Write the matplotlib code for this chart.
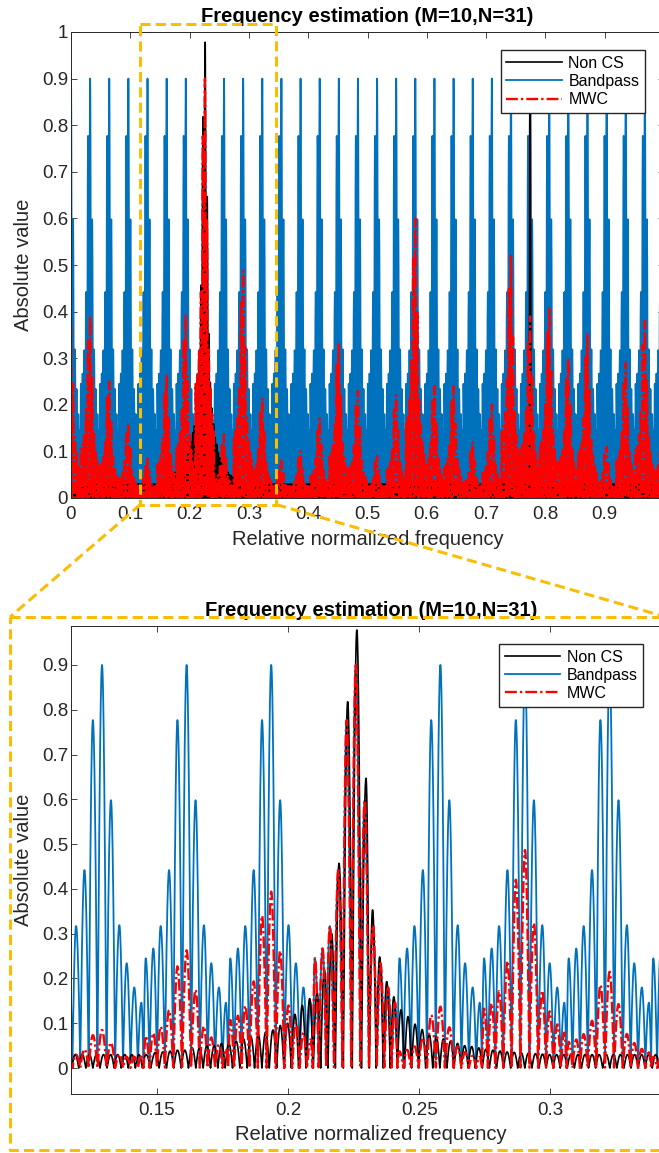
import numpy as np
import matplotlib.pyplot as plt
from matplotlib.lines import Line2D
from matplotlib.ticker import FormatStrFormatter

plt.rcParams['font.family'] = ['Liberation Sans', 'DejaVu Sans']

# ---- values ----
N = 31

# Bandpass: lobes around every k/N (offset from k/N, height)
bp_offset = [-0.0156, -0.0127, -0.0099, -0.0067, -0.0035, 0.0,
             0.0034, 0.0066, 0.0094, 0.0123, 0.0150]
bp_height = [0.245, 0.267, 0.317, 0.442, 0.777, 0.90,
             0.598, 0.319, 0.234, 0.180, 0.146]

# MWC: peak of the cluster at each k/N, k = 0..31 (same lobe pattern)
mwc_peak = [0.37, 0.39, 0.25, 0.16, 0.085, 0.263, 0.394, 0.90,
            0.137, 0.487, 0.215, 0.08, 0.10, 0.17, 0.33, 0.23,
            0.09, 0.22, 0.60, 0.24, 0.24, 0.12, 0.20, 0.52,
            0.39, 0.41, 0.30, 0.35, 0.11, 0.29, 0.38, 0.20]
mwc_floor = 0.025

# Non CS: main spike at 7/31 with its lobes (left / right going outwards)
ncs_center = 0.2262
ncs_peak = 0.978
ncs_left = [0.818, 0.457, 0.30, 0.22, 0.17, 0.155, 0.14, 0.12, 0.10,
            0.095, 0.085, 0.08, 0.075, 0.07, 0.065, 0.06, 0.055, 0.055,
            0.05, 0.05, 0.045, 0.045, 0.04, 0.04, 0.038, 0.036, 0.035]
ncs_right = [0.647, 0.353, 0.248, 0.193, 0.159, 0.13, 0.115, 0.098,
             0.086, 0.075, 0.07, 0.065, 0.06, 0.055, 0.05, 0.048, 0.045,
             0.042, 0.04, 0.038, 0.036, 0.035, 0.034, 0.033, 0.032,
             0.031, 0.03]
# second, narrow spike at 24/31
ncs_center2 = 0.7742
ncs_peak2 = 0.958
ncs_side2 = [0.06, 0.05, 0.04]
ncs_floor = 0.03

zoom_x = (0.1172, 0.346)


def lobe_curve(x, centers, heights, base=0.0):
    order = np.argsort(centers)
    c = np.asarray(centers, float)[order]
    h = np.asarray(heights, float)[order]
    mid = (c[1:] + c[:-1]) / 2
    edges = np.concatenate([[2 * c[0] - mid[0]], mid, [2 * c[-1] - mid[-1]]])
    i = np.clip(np.searchsorted(edges, x) - 1, 0, len(c) - 1)
    lo, hi, cc = edges[i], edges[i + 1], c[i]
    u = np.where(x < cc, (x - lo) / (cc - lo), (hi - x) / (hi - cc))
    u = np.clip(u, 0, 1)
    return base + (h[i] - base) * np.sin(np.pi / 2 * u)


x = np.linspace(0, 1, 40001)

# bandpass / MWC share the lobe positions
pos, bp_h, mwc_h = [], [], []
for k in range(N + 1):
    for o, h in zip(bp_offset, bp_height):
        pos.append(k / N + o)
        bp_h.append(h)
        mwc_h.append(max(mwc_peak[k] * h / 0.9, mwc_floor))
bandpass = lobe_curve(x, pos, bp_h, base=0.01)
mwc = lobe_curve(x, pos, mwc_h)

# Non CS lobes
left_off = np.concatenate([[0.0035, 0.0068], 0.0068 + 0.0028 * np.arange(1, len(ncs_left) - 1)])
right_off = np.concatenate([[0.0035, 0.0060], 0.0060 + 0.0027 * np.arange(1, len(ncs_right) - 1)])
side_off2 = 0.0030 * np.arange(1, len(ncs_side2) + 1)
ncs_pos = ([ncs_center] + list(ncs_center - left_off) + list(ncs_center + right_off)
           + [ncs_center2] + list(ncs_center2 - side_off2) + list(ncs_center2 + side_off2))
ncs_h = [ncs_peak] + ncs_left + ncs_right + [ncs_peak2] + ncs_side2 + ncs_side2
spans = [(ncs_center - left_off[-1] - 0.002, ncs_center + right_off[-1] + 0.002),
         (ncs_center2 - side_off2[-1] - 0.002, ncs_center2 + side_off2[-1] + 0.002)]
for f in np.arange(0, 1.0001, 0.0027):
    if not any(a < f < b for a, b in spans):
        ncs_pos.append(f)
        ncs_h.append(ncs_floor)
noncs = lobe_curve(x, ncs_pos, ncs_h)

# ---- figure ----
W, H = 659, 1153
fig = plt.figure(figsize=(W / 100, H / 100), dpi=100)
ax1 = fig.add_axes([71 / W, 1 - 498 / H, 593 / W, 466 / H])
ax2 = fig.add_axes([71 / W, 1 - 1094 / H, 600 / W, 468 / H])

gray = '#262626'
for ax in (ax1, ax2):
    l_bp, = ax.plot(x, bandpass, color='#0072BD', lw=1.3, label='Bandpass')
    l_ncs, = ax.plot(x, noncs, color='black', lw=1.2, label='Non CS')
    l_mwc, = ax.plot(x, mwc, color='red', lw=1.7, ls=(0, (5, 1.3, 1, 1.3)), label='MWC')
    ax.set_title('Frequency estimation (M=10,N=31)', fontsize=14.5,
                 fontweight='bold', pad=7.5)
    ax.set_xlabel('Relative normalized frequency', fontsize=14.5, color=gray)
    ax.set_ylabel('Absolute value', fontsize=14.5, color=gray)
    ax.tick_params(direction='in', top=True, right=True, length=4,
                   width=0.6, colors=gray, labelsize=13.5)
    ax.tick_params(axis='x', pad=6)
    ax.tick_params(axis='y', pad=2)
    ax.xaxis.set_major_formatter(FormatStrFormatter('%g'))
    ax.yaxis.set_major_formatter(FormatStrFormatter('%g'))
    for sp in ax.spines.values():
        sp.set_color(gray)
        sp.set_linewidth(0.7)
    ax.legend(handles=[l_ncs, l_bp, l_mwc], loc='upper right',
              bbox_to_anchor=(0.968, 0.961) if ax is ax1 else (0.954, 0.9615),
              borderaxespad=0, fontsize=11.5, fancybox=False, edgecolor=gray,
              framealpha=1, handlelength=3.5, handletextpad=0.4,
              borderpad=0.35, labelspacing=0.2)

ax1.set_xticks(np.arange(0, 1.01, 0.1))
ax1.set_yticks(np.arange(0, 1.01, 0.1))
ax1.set_xlim(0, 1)
ax1.set_ylim(0, 1)
ax1.xaxis.set_label_coords(0.5, -0.068)
ax1.yaxis.set_label_coords(-0.064, 0.5)

ax2.set_xticks([0.15, 0.2, 0.25, 0.3, 0.35])
ax2.set_yticks(np.arange(0, 0.91, 0.1))
ax2.set_xlim(*zoom_x)
ax2.set_ylim(-0.058, 0.987)
ax2.xaxis.set_label_coords(0.5, -0.066)
ax2.yaxis.set_label_coords(-0.063, 0.5)

# ---- yellow dashed zoom marks ----
fig.canvas.draw()
to_fig = ax1.transData + fig.transFigure.inverted()
(bx0, by0), (bx1, by1) = to_fig.transform([(zoom_x[0], -0.014), (zoom_x[1], 1.017)])
big = [(10 / W, 1 - 617 / H), (666 / W, 1 - 617 / H),
       (666 / W, 1 - 1150 / H), (10 / W, 1 - 1150 / H)]
dash = dict(color='#FBBC05', lw=2.2, ls=(0, (3.3, 1.7)),
            transform=fig.transFigure, zorder=10)
fig.add_artist(Line2D([bx0, bx1, bx1, bx0, bx0], [by1, by1, by0, by0, by1], **dash))
fig.add_artist(Line2D([bx0, big[0][0]], [by0, big[0][1]], **dash))
fig.add_artist(Line2D([bx1, big[1][0]], [by0, big[1][1]], **dash))
fig.add_artist(Line2D([p[0] for p in big] + [big[0][0]],
                      [p[1] for p in big] + [big[0][1]], **dash))

fig.savefig('out.png', dpi=100)
